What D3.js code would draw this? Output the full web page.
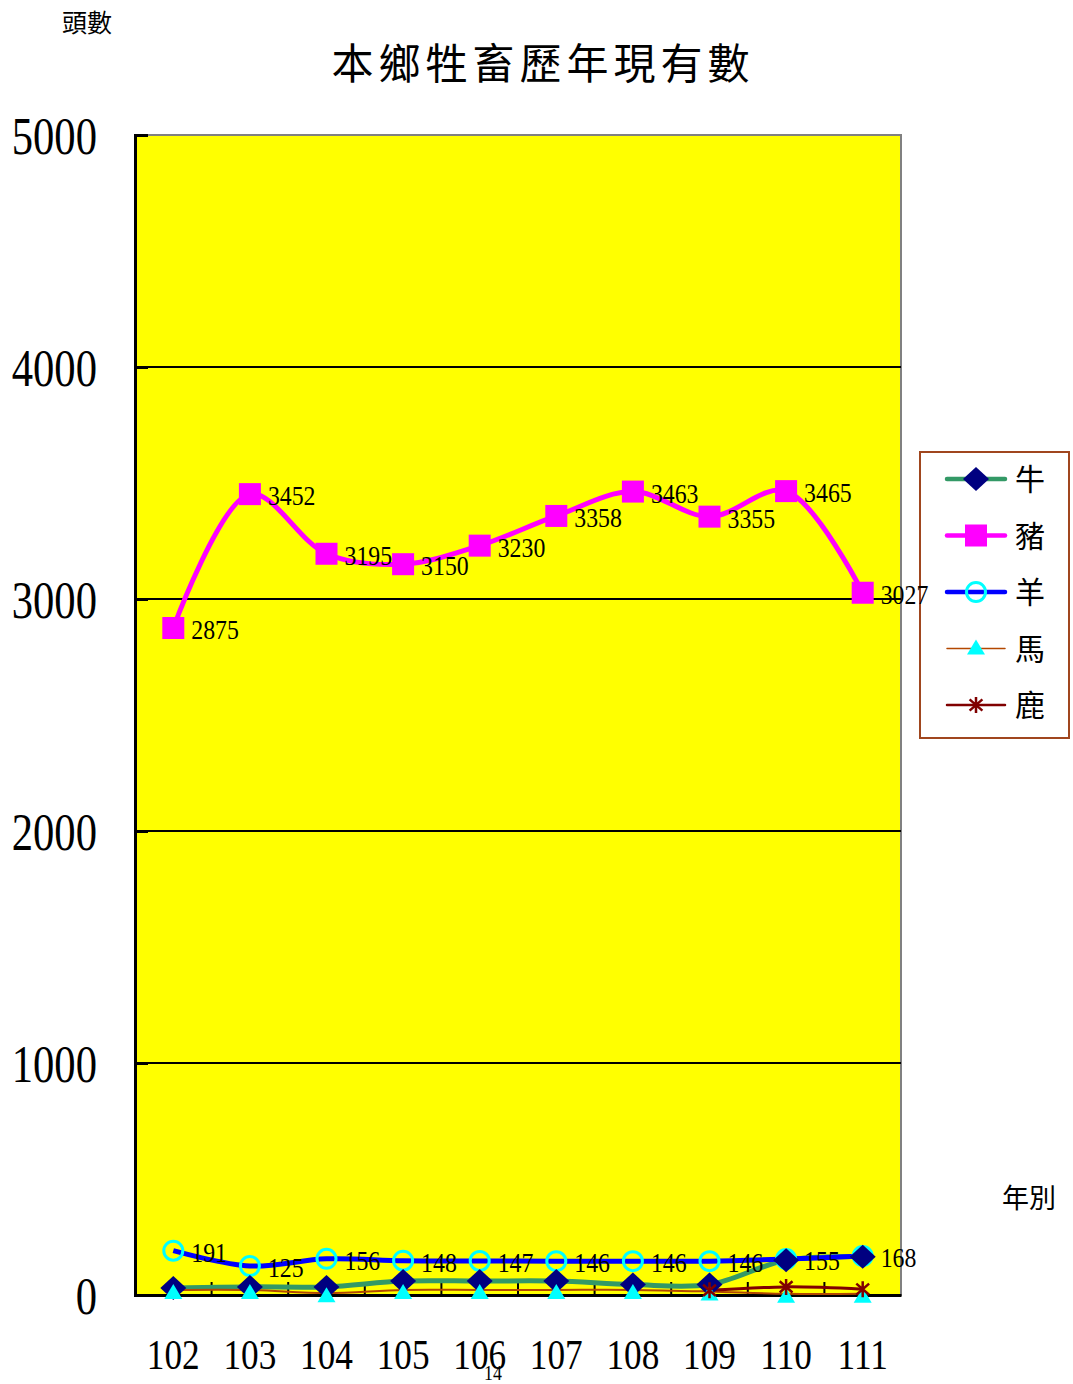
<!DOCTYPE html>
<html>
<head>
<meta charset="utf-8">
<script src="https://cdn.jsdelivr.net/npm/d3@7"></script>
<style>
body { margin: 0; background: #fff; }
svg { display: block; }
</style>
</head>
<body>
<svg id="chart"></svg>
<script>
var years = ["102","103","104","105","106","107","108","109","110","111"]
var cattle = [30, 35, 35, 60, 60, 60, 45, 45, 150, 165]
var pigs = [2875, 3452, 3195, 3150, 3230, 3358, 3463, 3355, 3465, 3027]
var sheep = [191, 125, 156, 148, 147, 146, 146, 146, 155, 168]
var horses = [22, 22, 8, 22, 22, 22, 22, 15, 5, 5]
var deer = [null, null, null, null, null, null, null, 20, 35, 25]
var yTicks = [0, 1000, 2000, 3000, 4000, 5000]
var legendNames = ["牛", "豬", "羊", "馬", "鹿"]

var screen = {width: 1073, height: 1384}
var plot = {left: 135, right: 901, top: 135, bottom: 1295}
var serif = "'Liberation Serif', 'DejaVu Serif', serif"
var cjk = "'Noto Sans CJK TC', 'Noto Sans CJK SC', sans-serif"

var svg = d3.select("#chart")
  .attr("width", screen.width)
  .attr("height", screen.height)

var xScale = d3.scaleBand()
  .domain(years)
  .range([plot.left, plot.right])
var cx = function(i){ return xScale(years[i]) + xScale.bandwidth()/2 }

var yScale = d3.scaleLinear()
  .domain([0, 5000])
  .range([plot.bottom, plot.top])

// plot area
svg.append("rect")
  .attr("x", plot.left).attr("y", plot.top)
  .attr("width", plot.right - plot.left).attr("height", plot.bottom - plot.top)
  .attr("fill", "#ffff00")
  .attr("stroke", "#808080")
  .attr("stroke-width", 2)

// gridlines
svg.selectAll(".grid")
  .data([1000, 2000, 3000, 4000])
  .enter().append("line")
  .attr("x1", plot.left).attr("x2", plot.right)
  .attr("y1", function(d){ return yScale(d) }).attr("y2", function(d){ return yScale(d) })
  .attr("stroke", "#000").attr("stroke-width", 2)

// y axis
var yAxis = d3.axisLeft(yScale).tickValues(yTicks).tickSize(-13).tickFormat(d3.format("d"))
var gy = svg.append("g")
  .attr("transform", "translate(" + plot.left + ",0)")
  .call(yAxis)
gy.select(".domain").attr("stroke", "#000").attr("stroke-width", 3)
gy.selectAll(".tick line").attr("stroke", "#000").attr("stroke-width", 3)
gy.selectAll(".tick text")
  .attr("x", 0).attr("dy", "0.35em")
  .attr("text-anchor", "end")
  .attr("transform", "translate(-38,0) scale(0.82,1)")
  .style("font-family", serif).style("font-size", "52px").attr("fill", "#000")

// x axis
var xAxis = d3.axisBottom(xScale).tickSize(0)
var gx = svg.append("g")
  .attr("transform", "translate(0," + plot.bottom + ")")
  .call(xAxis)
gx.select(".domain").attr("stroke", "#000").attr("stroke-width", 3)
gx.selectAll(".tick text")
  .attr("y", 0).attr("dy", 0)
  .attr("text-anchor", "middle")
  .attr("transform", "translate(0,74) scale(0.82,1)")
  .style("font-family", serif).style("font-size", "43px").attr("fill", "#000")

// category boundary ticks
svg.selectAll(".xtick")
  .data(years.slice(1))
  .enter().append("line")
  .attr("x1", function(d){ return xScale(d) }).attr("x2", function(d){ return xScale(d) })
  .attr("y1", plot.bottom - 13).attr("y2", plot.bottom)
  .attr("stroke", "#000").attr("stroke-width", 2)

var series = [
  {name: "牛", values: cattle, color: "#339966", width: 5},
  {name: "豬", values: pigs, color: "#ff00ff", width: 5},
  {name: "羊", values: sheep, color: "#0000ff", width: 5},
  {name: "馬", values: horses, color: "#b34700", width: 2},
  {name: "鹿", values: deer, color: "#800000", width: 3}
]

var line = d3.line()
  .defined(function(d){ return d != null })
  .x(function(d, i){ return cx(i) })
  .y(function(d){ return yScale(d) })
  .curve(d3.curveCatmullRom)

series.forEach(function(s){
  svg.append("path")
    .datum(s.values)
    .attr("d", line)
    .attr("fill", "none")
    .attr("stroke", s.color)
    .attr("stroke-width", s.width)
    .attr("stroke-linejoin", "round")
})

// marker shapes
var drawMarker = function(g, kind, x, y){
  if (kind == "牛") {
    g.append("path").attr("d", "M" + x + "," + (y-12) + "L" + (x+13) + "," + y + "L" + x + "," + (y+12) + "L" + (x-13) + "," + y + "Z")
      .attr("fill", "#000080")
  } else if (kind == "豬") {
    g.append("rect").attr("x", x-11).attr("y", y-11).attr("width", 22).attr("height", 22).attr("fill", "#ff00ff")
  } else if (kind == "羊") {
    g.append("circle").attr("cx", x).attr("cy", y).attr("r", 9.5)
      .attr("fill", "none").attr("stroke", "#00ffff").attr("stroke-width", 3)
  } else if (kind == "馬") {
    g.append("path").attr("d", "M" + x + "," + (y-6) + "L" + (x+9) + "," + (y+9) + "L" + (x-9) + "," + (y+9) + "Z")
      .attr("fill", "#00ffff")
  } else if (kind == "鹿") {
    var r = 8
    g.append("path")
      .attr("d", "M" + x + "," + (y-r) + "V" + (y+r) +
        "M" + (x-r*0.8) + "," + (y-r*0.7) + "L" + (x+r*0.8) + "," + (y+r*0.7) +
        "M" + (x+r*0.8) + "," + (y-r*0.7) + "L" + (x-r*0.8) + "," + (y+r*0.7))
      .attr("stroke", "#800000").attr("stroke-width", 2.5).attr("fill", "none")
  }
}

var markers = svg.append("g")
var order = [series[2], series[0], series[1], series[3], series[4]]
order.forEach(function(s){
  s.values.forEach(function(v, i){
    if (v == null) return
    drawMarker(markers, s.name, cx(i), yScale(v))
  })
})

// legend
var legend = svg.append("g")
legend.append("rect")
  .attr("x", 920).attr("y", 452).attr("width", 149).attr("height", 286)
  .attr("fill", "#fff").attr("stroke", "#a0461e").attr("stroke-width", 2)
var legendY = d3.scalePoint().domain(legendNames).range([479, 705])
series.forEach(function(s){
  var ly = legendY(s.name)
  legend.append("line")
    .attr("x1", 947).attr("x2", 1005).attr("y1", ly).attr("y2", ly)
    .attr("stroke", s.color).attr("stroke-width", s.width - 0.5).attr("stroke-linecap", "round")
  drawMarker(legend, s.name, 976, s.name == "馬" ? ly - 3 : ly)
  legend.append("text")
    .attr("x", 1015).attr("y", ly + 11)
    .style("font-family", cjk).style("font-size", "30px")
    .attr("fill", "#000")
    .text(s.name)
})

// data labels (drawn over the legend, as in the original)
var labelSeries = [series[1], series[2]]
labelSeries.forEach(function(s){
  svg.append("g").selectAll("text")
    .data(s.values)
    .enter().append("text")
    .attr("transform", function(d, i){ return "translate(" + (cx(i) + 18) + "," + (yScale(d) + 11) + ") scale(0.85,1)" })
    .style("font-family", serif).style("font-size", "28px")
    .attr("fill", "#000")
    .text(function(d){ return d })
})

// titles
svg.append("text")
  .attr("x", 543).attr("y", 79)
  .attr("text-anchor", "middle")
  .style("font-family", cjk).style("font-size", "42px").style("letter-spacing", "5px")
  .attr("fill", "#000")
  .text("本鄉牲畜歷年現有數")

svg.append("text")
  .attr("x", 62).attr("y", 32)
  .style("font-family", cjk).style("font-size", "25px")
  .attr("fill", "#000")
  .text("頭數")

svg.append("text")
  .attr("x", 1002).attr("y", 1208)
  .style("font-family", cjk).style("font-size", "27px")
  .attr("fill", "#000")
  .text("年別")

svg.append("text")
  .attr("transform", "translate(493,1380) scale(0.85,1)")
  .attr("text-anchor", "middle")
  .style("font-family", serif).style("font-size", "21px")
  .attr("fill", "#000")
  .text("14")
</script>
</body>
</html>
